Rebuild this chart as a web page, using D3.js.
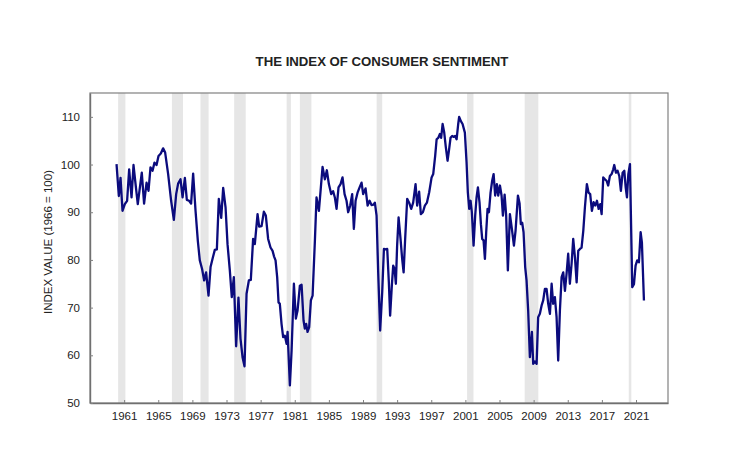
<!DOCTYPE html>
<html>
<head>
<meta charset="utf-8">
<script src="https://cdn.jsdelivr.net/npm/d3@7.9.0/dist/d3.min.js"></script>
<style>
  body { margin: 0; background: #fff; }
  text { font-family: "Liberation Sans", Arial, sans-serif; fill: #222; }
</style>
</head>
<body>
<div id="chart"></div>
<script>
// decimal year of each reading and the index value
const dates = [
  1960.11, 1960.38, 1960.58, 1960.81, 1961.08, 1961.35, 1961.59, 1961.87, 1962.10, 1962.34,
  1962.60, 1963.07, 1963.34, 1963.63, 1963.86, 1964.09, 1964.33, 1964.56, 1964.80, 1965.03,
  1965.30, 1965.57, 1965.81, 1966.16, 1966.51, 1966.83, 1967.10, 1967.33, 1967.61, 1967.85,
  1968.12, 1968.35, 1968.62, 1968.85, 1969.09, 1969.37, 1969.64, 1969.87, 1970.14, 1970.38,
  1970.61, 1970.89, 1971.13, 1971.40, 1971.63, 1971.87, 1972.10, 1972.38, 1972.61, 1972.89,
  1973.12, 1973.39, 1973.62, 1973.86, 1974.13, 1974.40, 1974.64, 1974.88, 1975.11, 1975.35,
  1975.62, 1975.85, 1976.12, 1976.32, 1976.64, 1976.83, 1977.11, 1977.38, 1977.61, 1977.88,
  1978.16, 1978.40, 1978.58, 1978.75, 1978.94, 1979.10, 1979.25, 1979.45, 1979.64, 1979.84,
  1980.04, 1980.16, 1980.43, 1980.63, 1980.90, 1981.13, 1981.33, 1981.60, 1981.80, 1982.03,
  1982.18, 1982.34, 1982.50, 1982.69, 1982.89, 1983.09, 1983.36, 1983.55, 1983.83, 1984.06,
  1984.26, 1984.53, 1984.76, 1985.00, 1985.27, 1985.50, 1985.70, 1985.90, 1986.13, 1986.37,
  1986.60, 1986.84, 1987.07, 1987.26, 1987.50, 1987.73, 1987.93, 1988.13, 1988.36, 1988.60,
  1988.83, 1989.02, 1989.30, 1989.54, 1989.77, 1990.00, 1990.24, 1990.39, 1990.59, 1990.78,
  1991.01, 1991.25, 1991.45, 1991.65, 1991.84, 1992.03, 1992.18, 1992.38, 1992.54, 1992.70,
  1992.85, 1993.00, 1993.17, 1993.40, 1993.59, 1993.76, 1993.94, 1994.18, 1994.41, 1994.65,
  1994.88, 1995.16, 1995.35, 1995.58, 1995.78, 1996.02, 1996.25, 1996.49, 1996.76, 1997.04,
  1997.23, 1997.46, 1997.63, 1997.82, 1998.01, 1998.16, 1998.33, 1998.52, 1998.71, 1998.91,
  1999.10, 1999.26, 1999.45, 1999.65, 1999.80, 1999.97, 2000.16, 2000.27, 2000.47, 2000.67,
  2000.94, 2001.14, 2001.29, 2001.45, 2001.61, 2001.76, 2001.96, 2002.15, 2002.31, 2002.47,
  2002.66, 2002.82, 2002.97, 2003.13, 2003.29, 2003.44, 2003.60, 2003.76, 2003.95, 2004.14,
  2004.31, 2004.49, 2004.69, 2004.85, 2005.05, 2005.24, 2005.40, 2005.60, 2005.78, 2005.98,
  2006.22, 2006.45, 2006.69, 2006.88, 2007.16, 2007.35, 2007.50, 2007.66, 2007.82, 2008.01,
  2008.17, 2008.36, 2008.56, 2008.80, 2008.95, 2009.15, 2009.35, 2009.53, 2009.73, 2009.93,
  2010.12, 2010.32, 2010.52, 2010.71, 2010.91, 2011.11, 2011.29, 2011.49, 2011.69, 2011.88,
  2012.08, 2012.28, 2012.47, 2012.67, 2012.86, 2013.05, 2013.25, 2013.45, 2013.64, 2013.84,
  2014.04, 2014.23, 2014.43, 2014.62, 2014.82, 2015.01, 2015.24, 2015.44, 2015.63, 2015.83,
  2016.03, 2016.22, 2016.42, 2016.62, 2016.81, 2016.97, 2017.16, 2017.36, 2017.55, 2017.74,
  2017.94, 2018.14, 2018.33, 2018.45, 2018.65, 2018.84, 2019.04, 2019.23, 2019.43, 2019.63,
  2019.79, 2019.94, 2020.10, 2020.29, 2020.56, 2020.76, 2020.95, 2021.14, 2021.34, 2021.54,
  2021.69, 2021.93
];

const sentiment = [
  100.1, 93.4, 97.2, 90.3, 91.7, 92.4, 99.0, 93.1, 99.9, 95.9,
  91.7, 98.3, 91.8, 96.2, 94.5, 99.4, 98.7, 100.4, 99.9, 101.8,
  102.3, 103.4, 102.5, 98.0, 92.4, 88.4, 93.8, 96.0, 96.9, 93.1,
  97.2, 92.6, 92.4, 91.8, 98.1, 90.3, 84.0, 79.9, 78.1, 75.7,
  77.4, 72.5, 78.5, 80.5, 82.1, 82.2, 92.8, 88.8, 95.1, 91.0,
  83.3, 77.8, 72.2, 76.4, 61.9, 72.1, 63.5, 59.6, 57.7, 72.9,
  75.7, 75.8, 84.4, 83.3, 89.6, 87.0, 87.1, 90.1, 89.3, 84.4,
  82.6, 81.9, 80.7, 79.9, 76.4, 71.1, 70.8, 66.6, 63.8, 64.1,
  62.4, 64.9, 53.7, 61.0, 75.0, 67.7, 69.4, 74.6, 74.8, 67.3,
  65.6, 66.6, 64.9, 65.9, 71.5, 72.5, 84.0, 93.1, 90.3, 95.2,
  99.5, 96.9, 98.8, 95.9, 93.8, 94.4, 93.1, 90.7, 95.2, 95.9,
  97.3, 93.8, 92.4, 90.0, 91.4, 93.8, 86.5, 92.4, 94.1, 95.2,
  96.2, 93.8, 95.0, 91.4, 92.4, 91.5, 91.6, 92.0, 89.3, 77.4,
  65.2, 73.2, 82.3, 82.2, 82.3, 75.3, 68.3, 74.6, 78.8, 78.1,
  75.0, 83.0, 88.9, 84.4, 80.2, 77.4, 84.4, 92.8, 92.0, 90.7,
  92.0, 95.9, 91.4, 94.3, 89.6, 90.0, 91.4, 92.0, 94.2, 97.3,
  98.0, 101.8, 105.3, 105.6, 106.4, 105.6, 108.5, 106.7, 103.6, 100.8,
  103.3, 105.6, 106.0, 105.8, 106.0, 105.3, 108.5, 110.0, 109.1, 108.5,
  106.7, 100.4, 94.1, 90.7, 92.4, 90.0, 83.0, 89.3, 93.1, 95.2,
  92.0, 87.5, 84.4, 84.1, 80.2, 85.8, 90.7, 90.0, 94.1, 96.6,
  98.0, 93.5, 95.9, 93.5, 95.6, 93.5, 89.3, 93.7, 89.3, 77.8,
  89.6, 86.5, 83.0, 86.1, 93.5, 91.9, 87.5, 87.8, 85.8, 78.5,
  75.7, 69.4, 59.6, 64.9, 58.2, 58.7, 58.2, 68.0, 68.7, 70.4,
  71.5, 73.9, 73.9, 70.8, 68.7, 75.0, 70.8, 72.2, 68.0, 58.9,
  69.4, 76.4, 77.4, 73.5, 77.1, 81.3, 75.0, 79.2, 84.4, 80.6,
  75.3, 81.9, 82.3, 82.6, 86.1, 91.0, 95.9, 94.1, 93.8, 90.3,
  92.1, 91.4, 92.4, 90.7, 91.7, 89.6, 97.3, 96.9, 96.6, 95.6,
  97.6, 98.0, 99.0, 99.9, 98.3, 98.7, 97.6, 94.5, 98.3, 98.7,
  95.2, 93.1, 98.0, 100.1, 74.3, 74.9, 78.8, 79.9, 79.5, 85.8,
  83.7, 71.5
];

// shaded recession periods, start and end as decimal years
const recessionStart = [1960.30, 1966.60, 1969.95, 1973.90, 1980.05, 1981.60, 1990.60, 2001.20, 2007.95, 2020.15];
const recessionEnd   = [1961.15, 1967.90, 1970.90, 1975.25, 1980.55, 1982.95, 1991.25, 2001.95, 2009.55, 2020.45];

const yearTicks = d3.range(1961, 2022, 4);
const valueTicks = [50, 60, 70, 80, 90, 100, 110];

const width = 748;
const height = 475;
const margin = { top: 93, right: 80, bottom: 72, left: 90 };
const plotWidth = width - margin.left - margin.right;
const plotHeight = height - margin.top - margin.bottom;

const svg = d3.select("#chart").append("svg")
    .attr("width", width)
    .attr("height", height);

const g = svg.append("g").attr("transform", `translate(${margin.left},${margin.top})`);

const x = d3.scaleLinear().domain([1957, 2024.75]).range([0, plotWidth]);
const y = d3.scaleLinear().domain([50, 115]).range([plotHeight, 0]);

// recession bars
const bands = recessionStart.map((s, i) => ({ start: s, end: recessionEnd[i] }));
g.selectAll("rect.band").data(bands)
    .join("rect")
    .attr("class", "band")
    .attr("x", d => x(d.start))
    .attr("y", 0)
    .attr("width", d => x(d.end) - x(d.start))
    .attr("height", plotHeight)
    .attr("fill", "#e6e6e6");

// frame
g.append("rect")
    .attr("width", plotWidth)
    .attr("height", plotHeight)
    .attr("fill", "none")
    .attr("stroke", "#808080")
    .attr("stroke-width", 1.2);

// axes, ticks point into the plot
const xAxis = g.append("g")
    .attr("transform", `translate(0,${plotHeight})`)
    .call(d3.axisBottom(x).tickValues(yearTicks).tickFormat(d3.format("d")).tickSizeInner(-3).tickSizeOuter(0).tickPadding(9));

const yAxis = g.append("g")
    .call(d3.axisLeft(y).tickValues(valueTicks).tickSizeInner(-3).tickSizeOuter(0).tickPadding(10));

[xAxis, yAxis].forEach(a => {
    a.select(".domain").attr("stroke", "#707070").attr("stroke-width", 1.4);
    a.selectAll(".tick line").attr("stroke", "#808080");
    a.selectAll(".tick text")
        .attr("fill", "#222")
        .style("font-family", "'Liberation Sans', Arial, sans-serif")
        .style("font-size", "11.5px");
});

// sentiment line
const points = dates.map((d, i) => ({ t: d, v: sentiment[i] }));
g.append("path")
    .datum(points)
    .attr("fill", "none")
    .attr("stroke", "#0b0b7d")
    .attr("stroke-width", 2.3)
    .attr("stroke-linejoin", "round")
    .attr("d", d3.line().x(d => x(d.t)).y(d => y(d.v)));

svg.append("text")
    .attr("x", 382)
    .attr("y", 66)
    .attr("text-anchor", "middle")
    .style("font-size", "13.2px")
    .style("font-weight", "bold")
    .text("THE INDEX OF CONSUMER SENTIMENT");

svg.append("text")
    .attr("transform", "rotate(-90)")
    .attr("x", -(margin.top + plotHeight / 2) + 6)
    .attr("y", 52)
    .attr("text-anchor", "middle")
    .style("font-size", "11.5px")
    .text("INDEX VALUE (1966 = 100)");
</script>
</body>
</html>
